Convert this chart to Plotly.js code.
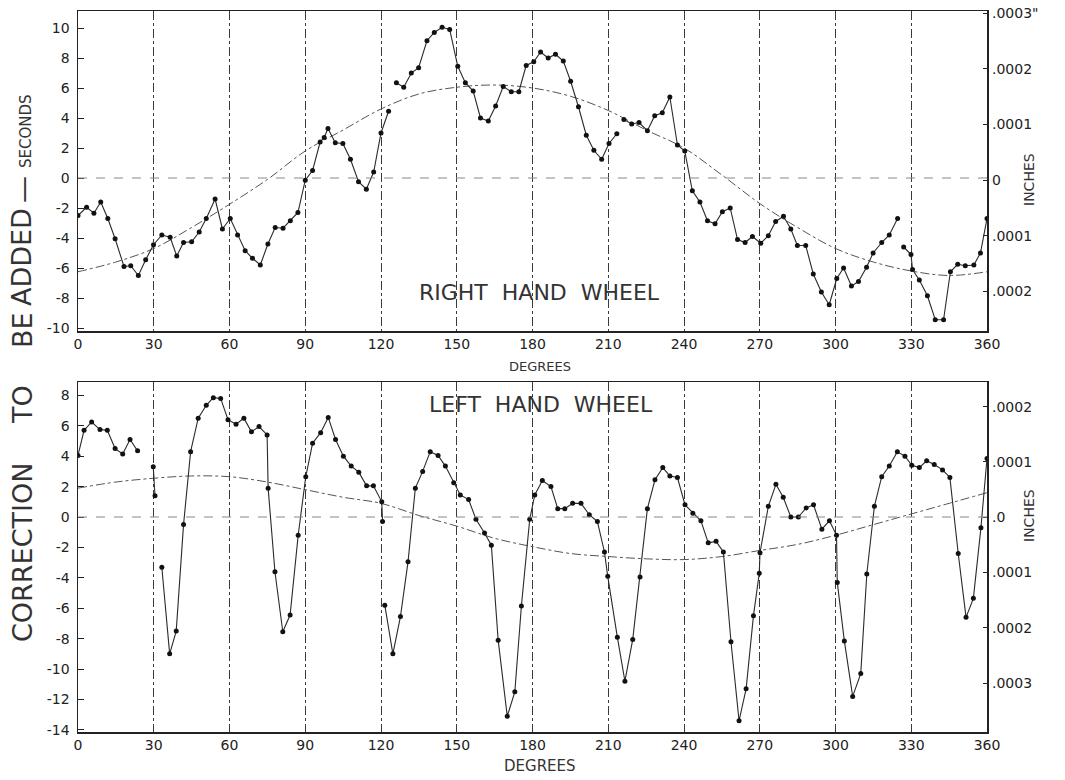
<!DOCTYPE html>
<html><head><meta charset="utf-8">
<script src="https://cdn.plot.ly/plotly-3.0.1.min.js"></script>
<style>html,body{margin:0;padding:0;background:#fff}#chart{width:1065px;height:780px}</style>
</head><body><div id="chart"></div>
<script>
// ---- RIGHT HAND WHEEL (upper panel) ----
const degR = [0,3.4,6.3,9,11.8,14.7,18.2,20.9,23.9,26.8,29.9,33.2,36.5,39.1,41.8,45,48,50.8,54.3,57.2,60.3,63.2,66.2,69.1,72.2,75.2,78.1,81.2,84.1,87.1,90,92.9,95.9,97.5,99,101.9,104.9,107.9,111.1,114.2,117.1,120,123,124.5,126.1,129,132,134.9,138.2,141.1,144.2,147.2,150.4,153.4,156.5,159.4,162.5,165.4,168.4,171.6,174.6,177.5,180.5,183.2,186.2,189.1,192.2,195.1,198.2,201.3,204.3,207.4,210.3,213.4,214.8,216.2,219.3,222.2,225.5,228.4,231.4,234.4,237.4,240.3,243.3,246.3,249.3,252.3,255.2,258.3,261.2,264.2,267.1,270.4,273.4,276.3,279.4,282.3,284.9,288.2,291.2,294.4,297.5,300.5,303.2,306.3,309.1,312.3,314.9,318.3,321.3,324.6,325.8,327,329.9,330.5,333.2,336.4,339.5,342.8,345.5,348.4,351.4,354.8,357.4,360];
const secR = [-2.5,-1.95,-2.35,-1.6,-2.7,-4.05,-5.9,-5.85,-6.5,-5.45,-4.45,-3.8,-3.95,-5.2,-4.3,-4.25,-3.6,-2.7,-1.4,-3.4,-2.7,-3.8,-4.85,-5.35,-5.8,-4.4,-3.3,-3.35,-2.85,-2.3,-0.15,0.5,2.4,2.7,3.3,2.35,2.3,1.25,-0.25,-0.75,0.4,3.0,4.45,null,6.35,6.05,7.0,7.35,9.15,9.7,10.05,9.9,7.45,6.35,5.8,4.0,3.8,4.8,6.1,5.75,5.75,7.5,7.75,8.4,8.0,8.25,7.8,6.45,4.75,2.85,1.85,1.25,2.3,2.95,null,3.9,3.6,3.7,3.15,4.15,4.35,5.4,2.2,1.8,-0.85,-1.6,-2.85,-3.05,-2.25,-2.0,-4.1,-4.3,-3.9,-4.35,-3.85,-2.9,-2.55,-3.4,-4.5,-4.5,-6.4,-7.6,-8.45,-6.7,-6.0,-7.2,-6.9,-5.95,-5.0,-4.3,-3.8,-2.7,null,-4.6,-5.1,-6.1,-6.8,-7.85,-9.45,-9.45,-6.25,-5.75,-5.85,-5.8,-5.0,-2.7];
const degRsmooth = [0,15,30,45,60,75,90,105,120,135,150,165,180,195,210,225,240,255,270,285,300,315,330,345,360];
const secRsmooth = [-6.25,-5.6,-4.7,-3.3,-1.75,-0.1,1.8,3.2,4.6,5.6,6.05,6.2,6.0,5.45,4.5,3.2,2.0,0.2,-1.7,-3.3,-4.7,-5.6,-6.2,-6.5,-6.25];

// ---- LEFT HAND WHEEL (lower panel) ----
const degL = [0,2.4,5.4,8.7,11.6,14.7,17.7,20.6,23.6,26.7,29.8,30.5,31.9,33.2,36.3,38.9,41.8,44.6,47.6,50.8,53.6,56.5,59.4,62.6,65.7,68.7,71.7,74.9,75.3,78,81.1,84,87.2,90.2,92.9,96.1,99.1,102,105.1,108.2,111.2,114.3,117,120.3,120.6,121,121.5,124.7,127.7,130.7,133.6,136.5,139.5,142.6,145.5,148.8,151.4,154.7,157.6,161,163.7,166.4,170,173,175.6,178.9,180.9,183.9,187.3,190,192.8,195.9,199.2,202.5,205.7,208.5,209.8,213.6,216.6,219.7,222.6,225.5,228.5,231.6,234.4,237.4,240.4,243.5,246.7,249.6,252.7,255.6,258.6,261.8,264.6,267.5,269.8,270.1,273.4,276.4,279.3,282.3,285.3,288.4,291.3,294.6,297.6,300.4,300.7,303.5,306.8,310,312.4,315.4,318.3,321.3,324.5,327.5,330.2,333.2,336.1,339.1,342.4,345.3,348.6,351.7,354.6,357.6,360];
const secL = [4.05,5.7,6.25,5.75,5.7,4.5,4.15,5.1,4.35,null,3.3,1.4,null,-3.3,-9.0,-7.5,-0.5,4.3,6.5,7.35,7.85,7.8,6.4,6.1,6.5,5.6,5.95,5.4,1.9,-3.6,-7.55,-6.45,-1.2,2.65,4.85,5.55,6.55,5.1,4.0,3.35,2.95,2.05,2.05,1.0,-0.3,null,-5.8,-9.0,-6.55,-2.95,1.9,3.0,4.3,4.05,3.35,2.25,1.45,1.15,-0.15,-1.05,-1.85,-8.1,-13.1,-11.5,-5.85,-0.15,1.45,2.4,2.0,0.55,0.55,0.9,0.9,0.15,-0.3,-2.3,-3.9,-7.9,-10.8,-8.05,-3.95,0.55,2.45,3.25,2.7,2.6,0.8,0.25,-0.25,-1.7,-1.6,-2.3,-8.2,-13.4,-11.3,-6.5,-3.7,-2.35,0.7,2.15,1.3,0.0,0.0,0.6,0.8,-0.8,-0.25,-1.2,-4.3,-8.15,-11.8,-10.3,-3.75,0.7,2.65,3.35,4.3,4.0,3.4,3.25,3.7,3.45,3.1,2.6,-2.4,-6.6,-5.35,-0.7,3.85];
const degLsmooth = [0,15,30,45,60,75,90,105,120,135,150,165,180,195,210,225,240,255,270,285,300,315,330,345,360];
const secLsmooth = [1.9,2.3,2.55,2.7,2.65,2.3,1.8,1.3,0.9,0.1,-0.6,-1.4,-1.95,-2.4,-2.6,-2.75,-2.8,-2.6,-2.2,-1.8,-1.2,-0.5,0.2,0.9,1.6];

// ---- ticks ----
const degTicks = [0,30,60,90,120,150,180,210,240,270,300,330,360];
const secTicksTop = [10,8,6,4,2,0,-2,-4,-6,-8,-10];
const secTicksBot = [8,6,4,2,0,-2,-4,-6,-8,-10,-12,-14];
const inchTicksTop = [0.0003,0.0002,0.0001,0,-0.0001,-0.0002];
const inchTextTop = ['.0003"','.0002','.0001','0','.0001','.0002'];
const inchTicksBot = [0.0002,0.0001,0,-0.0001,-0.0002,-0.0003];
const inchTextBot = ['.0002','.0001','.0','.0001','.0002','.0003'];

const W = 1065, H = 780;
const fx = p => p / W, fy = p => 1 - p / H;
const FONT = 'DejaVu Sans';
const INK = '#222';
const TXT = '#333';

const dataLine = {color:'#2a2a2a', width:1.1};
const dataMarker = {color:'#111', size:5};
const smoothLine = {color:'#555', width:1, dash:'dashdot', shape:'spline'};

const traces = [
  {x:degRsmooth, y:secRsmooth, xaxis:'x', yaxis:'y', mode:'lines', line:smoothLine, hoverinfo:'skip', showlegend:false},
  {x:degR, y:secR, xaxis:'x', yaxis:'y', mode:'lines+markers', line:dataLine, marker:dataMarker, showlegend:false, name:'Right hand wheel'},
  {x:degLsmooth, y:secLsmooth, xaxis:'x2', yaxis:'y3', mode:'lines', line:smoothLine, hoverinfo:'skip', showlegend:false},
  {x:degL, y:secL, xaxis:'x2', yaxis:'y3', mode:'lines+markers', line:dataLine, marker:dataMarker, showlegend:false, name:'Left hand wheel'},
  // empty carriers so the inch (right-hand) axes are drawn
  {x:[], y:[], xaxis:'x', yaxis:'y2', mode:'markers', hoverinfo:'skip', showlegend:false},
  {x:[], y:[], xaxis:'x2', yaxis:'y4', mode:'markers', hoverinfo:'skip', showlegend:false}
];

const tickFont = {family:FONT, size:14, color:INK};
const xCommon = {
  range:[0,360], tickvals:degTicks, ticktext:degTicks.map(String), ticks:'',
  showline:true, mirror:true, linecolor:INK, linewidth:1.5,
  showgrid:true, gridcolor:'#3a3a3a', gridwidth:1, griddash:'dashdot',
  zeroline:false, tickfont:tickFont, fixedrange:true
};
const yCommon = {
  ticks:'inside', ticklen:6, tickcolor:INK, showline:true, mirror:true, linecolor:INK, linewidth:1.5,
  showgrid:false, zeroline:false, tickfont:tickFont, fixedrange:true, ticklabelstandoff:4
};

const topDom = [fy(331), fy(11)];
const botDom = [fy(732), fy(382)];
const xDom = [fx(78), fx(987)];

const bigTitle = {family:FONT, size:27, color:TXT};
const wheelFont = {family:FONT, size:22, color:TXT};

const layout = {
  width:W, height:H, margin:{l:0,r:0,t:0,b:0}, paper_bgcolor:'#fff', plot_bgcolor:'#fff',
  showlegend:false,
  xaxis: Object.assign({}, xCommon, {domain:xDom, anchor:'y'}),
  yaxis: Object.assign({}, yCommon, {domain:topDom, anchor:'x', range:[-10.2,11.133], tickvals:secTicksTop, ticktext:secTicksTop.map(String)}),
  yaxis2: Object.assign({}, yCommon, {overlaying:'y', side:'right', anchor:'x', range:[-2.716e-4,3.04e-4], tickvals:inchTicksTop, ticktext:inchTextTop, showline:false, ticks:'inside', ticklen:4}),
  xaxis2: Object.assign({}, xCommon, {domain:xDom, anchor:'y3'}),
  yaxis3: Object.assign({}, yCommon, {domain:botDom, anchor:'x2', range:[-14.14,8.88], tickvals:secTicksBot, ticktext:secTicksBot.map(String)}),
  yaxis4: Object.assign({}, yCommon, {overlaying:'y3', side:'right', anchor:'x2', range:[-3.884e-4,2.445e-4], tickvals:inchTicksBot, ticktext:inchTextBot, showline:false, ticks:'inside', ticklen:4}),
  shapes: [
    {type:'line', xref:'x', yref:'y', x0:0, x1:360, y0:0, y1:0, line:{color:'#888', width:1, dash:'dash'}},
    {type:'line', xref:'x2', yref:'y3', x0:0, x1:360, y0:0, y1:0, line:{color:'#888', width:1, dash:'dash'}}
  ],
  annotations: [
    {text:'RIGHT  HAND  WHEEL', xref:'paper', yref:'paper', x:fx(539), y:fy(292), showarrow:false, font:wheelFont, xanchor:'center', yanchor:'middle'},
    {text:'LEFT  HAND  WHEEL', xref:'paper', yref:'paper', x:fx(541), y:fy(404), showarrow:false, font:wheelFont, xanchor:'center', yanchor:'middle'},
    {text:'DEGREES', xref:'paper', yref:'paper', x:fx(540), y:fy(366), showarrow:false, font:{family:FONT, size:13, color:TXT}, xanchor:'center', yanchor:'middle'},
    {text:'DEGREES', xref:'paper', yref:'paper', x:fx(540), y:fy(766), showarrow:false, font:{family:FONT, size:15, color:TXT}, xanchor:'center', yanchor:'middle'},
    {text:'INCHES', xref:'paper', yref:'paper', x:fx(1029), y:fy(180), showarrow:false, textangle:-90, font:{family:FONT, size:14, color:TXT}, xanchor:'center', yanchor:'middle'},
    {text:'INCHES', xref:'paper', yref:'paper', x:fx(1029), y:fy(516), showarrow:false, textangle:-90, font:{family:FONT, size:14, color:TXT}, xanchor:'center', yanchor:'middle'},
    {text:'CORRECTION', xref:'paper', yref:'paper', x:fx(22), y:fy(553), showarrow:false, textangle:-90, font:bigTitle, xanchor:'center', yanchor:'middle'},
    {text:'TO', xref:'paper', yref:'paper', x:fx(22), y:fy(405), showarrow:false, textangle:-90, font:bigTitle, xanchor:'center', yanchor:'middle'},
    {text:'BE', xref:'paper', yref:'paper', x:fx(22), y:fy(330), showarrow:false, textangle:-90, font:bigTitle, xanchor:'center', yanchor:'middle'},
    {text:'ADDED', xref:'paper', yref:'paper', x:fx(22), y:fy(257), showarrow:false, textangle:-90, font:bigTitle, xanchor:'center', yanchor:'middle'},
    {text:'—', xref:'paper', yref:'paper', x:fx(22), y:fy(190), showarrow:false, textangle:-90, font:bigTitle, xanchor:'center', yanchor:'middle'},
    {text:'SECONDS', xref:'paper', yref:'paper', x:fx(26), y:fy(131), showarrow:false, textangle:-90, font:{family:FONT, size:15, color:TXT}, xanchor:'center', yanchor:'middle'}
  ]
};

Plotly.newPlot('chart', traces, layout, {displayModeBar:false, staticPlot:true});
</script></body></html>
